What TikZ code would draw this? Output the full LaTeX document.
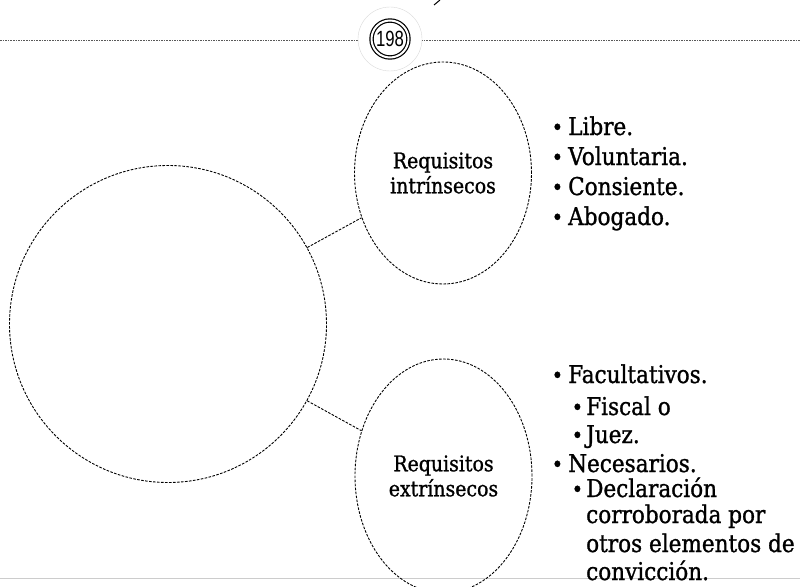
\documentclass[tikz,border=0pt]{standalone}
\usepackage{fontspec}
\setmainfont{DejaVu Serif}[FakeStretch=0.88,FakeBold=1.1]
\newfontfamily\numfont{Liberation Sans}
\usetikzlibrary{shapes.geometric}
\tikzset{
  bubble/.style={draw, dash pattern=on 2.6pt off 1.4pt, line width=0.9pt, ellipse, inner sep=0pt, align=center, font=\fontsize{21.5}{25}\selectfont},
  link/.style={draw, dash pattern=on 2.6pt off 1.4pt, line width=0.9pt},
  itemtxt/.style={anchor=base west, inner sep=0pt, font=\fontsize{24.5}{30}\selectfont},
  bul/.style={anchor=base west, inner sep=0pt, font=\fontsize{22}{30}\selectfont},
}
\begin{document}
\begin{tikzpicture}[x=1pt,y=-1pt]
\useasboundingbox (0,0) rectangle (800,586);
% header
\draw[black!65, dash pattern=on 1.6pt off 1pt, line width=1pt] (0,41) -- (800,41);
\node[circle, draw=gray!30, fill=white, minimum size=64pt, inner sep=0pt] (pgo) at (390,39) {};
\node[circle, draw, line width=1.2pt, double=white, double distance=2pt, minimum size=37pt, inner sep=0pt,
      font=\numfont\fontsize{22}{22}\selectfont] (pg) at (390,39) {\scalebox{0.76}[1]{198}};
\draw[line width=1pt] (440,0) -- (434,5);
% bottom rule
\draw[gray!40, line width=0.8pt] (0,578) -- (800,578);
% shapes
\node[bubble, circle, minimum size=317pt] (big) at (168,324) {};
\node[bubble, minimum width=177pt, minimum height=222pt] (intr) at (443,173) {Requisitos\\intrínsecos};
\node[bubble, minimum width=177pt, minimum height=234pt] (extr) at (443.5,476) {Requisitos\\extrínsecos};
\draw[link] (big) -- (intr);
\draw[link] (big) -- (extr);
% first list
\node[bul] (b1) at (551.5,135) {•};
\node[itemtxt] (t1) at (568,135) {Libre.};
\node[bul] (b2) at (551.5,165) {•};
\node[itemtxt] (t2) at (568,165) {Voluntaria.};
\node[bul] (b3) at (551.5,195) {•};
\node[itemtxt] (t3) at (568,195) {Consiente.};
\node[bul] (b4) at (551.5,225) {•};
\node[itemtxt] (t4) at (568,225) {Abogado.};
% second list
\node[bul] (c1) at (551.5,383) {•};
\node[itemtxt] (s1) at (568,383) {Facultativos.};
\node[bul] (c2) at (571.5,415) {•};
\node[itemtxt] (s2) at (586,415) {Fiscal o};
\node[bul] (c3) at (571.5,443) {•};
\node[itemtxt] (s3) at (586,443) {Juez.};
\node[bul] (c4) at (551.5,472) {•};
\node[itemtxt] (s4) at (568,472) {Necesarios.};
\node[bul] (c5) at (571.5,497) {•};
\node[itemtxt] (s5) at (586,497) {Declaración};
\node[itemtxt] (s6) at (586,523) {corroborada por};
\node[itemtxt] (s7) at (586,552) {otros elementos de};
\node[itemtxt] (s8) at (586,580) {convicción.};
\end{tikzpicture}
\end{document}
